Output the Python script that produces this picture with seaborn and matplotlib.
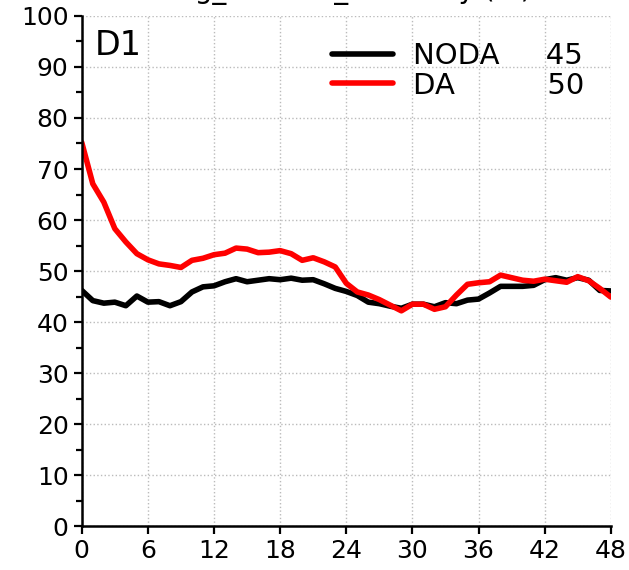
import matplotlib
matplotlib.use("Agg")
import matplotlib.pyplot as plt
import pandas as pd
import seaborn as sns

# forecast hours 0..48
hours = list(range(49))

noda = [46.2, 44.2, 43.7, 43.9, 43.2, 45.1, 43.9, 44.0, 43.2, 44.0,
        45.9, 46.9, 47.1, 47.9, 48.5, 47.9, 48.2, 48.5, 48.3, 48.6,
        48.2, 48.3, 47.5, 46.6, 46.0, 45.2, 43.9, 43.6, 43.1, 42.7,
        43.5, 43.5, 43.0, 43.8, 43.6, 44.3, 44.5, 45.7, 47.0, 47.0,
        47.0, 47.2, 48.3, 48.7, 48.2, 48.7, 48.2, 46.2, 46.1]

da = [75.2, 67.1, 63.5, 58.3, 55.7, 53.4, 52.2, 51.4, 51.1, 50.7,
      52.1, 52.5, 53.2, 53.5, 54.5, 54.3, 53.6, 53.7, 54.0, 53.4,
      52.1, 52.6, 51.8, 50.8, 47.6, 45.9, 45.3, 44.4, 43.3, 42.2,
      43.5, 43.5, 42.5, 43.0, 45.3, 47.4, 47.7, 47.9, 49.2, 48.7,
      48.2, 48.0, 48.4, 48.1, 47.8, 48.9, 48.1, 46.6, 44.9]

series_names = ["NODA", "DA"]
series_scores = [45, 50]
series_colors = ["black", "red"]
panel_label = "D1"
title = "Avg_Position_Accuracy (%)"

df = pd.DataFrame({"hour": hours * 2,
                   "value": noda + da,
                   "run": ["NODA"] * len(hours) + ["DA"] * len(hours)})

sns.set_style("ticks")
plt.rcParams["font.family"] = ["DejaVu Sans"]
plt.rcParams["text.color"] = "black"
plt.rcParams["xtick.color"] = "black"
plt.rcParams["ytick.color"] = "black"
plt.rcParams["axes.labelcolor"] = "black"

fig = plt.figure(figsize=(6.29, 5.70), dpi=100)
ax = fig.add_axes([0.130, 0.077, 0.841, 0.895])

sns.lineplot(data=df, x="hour", y="value", hue="run",
             palette=dict(zip(series_names, series_colors)),
             linewidth=4, ax=ax, legend=False)

ax.set_xlim(0, 48)
ax.set_ylim(0, 100)
ax.set_xticks(range(0, 49, 6))
ax.set_yticks(range(0, 101, 10))
ax.set_yticks(range(5, 100, 10), minor=True)
ax.tick_params(axis="both", which="major", labelsize=18, length=6, width=1.6,
               colors="black")
ax.tick_params(axis="y", which="minor", length=4, width=1.6, colors="black")
ax.grid(True, which="major", linestyle=":", color="#bbbbbb", linewidth=1)
ax.set_xlabel("")
ax.set_ylabel("")
for s in ["top", "right"]:
    ax.spines[s].set_visible(False)
for s in ["left", "bottom"]:
    ax.spines[s].set_linewidth(1.8)
    ax.spines[s].set_color("black")

# legend labels with score column
pad = {"NODA": 5, "DA": 10}
labels = [n + " " * pad[n] + str(v) for n, v in zip(series_names, series_scores)]
handles = ax.get_lines()[:2]
ax.legend(handles, labels, loc="upper right", frameon=False, fontsize=21,
          handlelength=2.1, handletextpad=0.7, labelspacing=0.05,
          bbox_to_anchor=(1.0, 1.0))

ax.text(0.025, 0.975, panel_label, transform=ax.transAxes, fontsize=24,
        va="top", ha="left", color="black")
ax.set_title(title, fontsize=20, pad=13, color="black")

fig.savefig("out.png", dpi=100)
